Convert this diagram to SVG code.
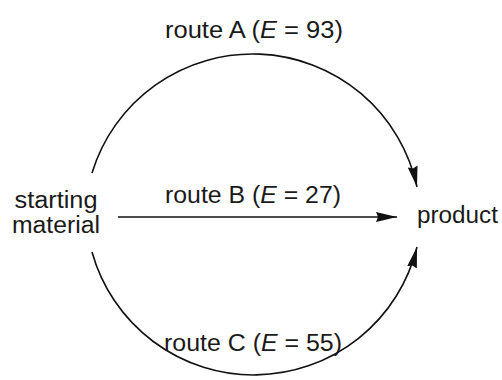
<svg xmlns="http://www.w3.org/2000/svg" width="502" height="380" viewBox="0 0 502 380">
  <style>
    .t { font-family: "Liberation Sans", Arial, Helvetica, sans-serif; font-size: 23px; fill: #1a1a1a; }
    .c { fill: none; stroke: #111; stroke-width: 1.6; }
    .i { font-style: italic; }
  </style>
  <defs>
    <marker id="ah" markerUnits="userSpaceOnUse" viewBox="0 0 21 10" markerWidth="21" markerHeight="10" refX="21" refY="5" orient="auto">
      <path d="M0,0 L21,5 L0,10 L2,5 z" fill="#111"/>
    </marker>
  </defs>
  <rect width="502" height="380" fill="#fff"/>
  <g id="start">
    <text class="t" x="56" y="208" text-anchor="middle" textLength="83" lengthAdjust="spacingAndGlyphs">starting</text>
    <text class="t" x="56" y="233" text-anchor="middle" textLength="88" lengthAdjust="spacingAndGlyphs">material</text>
  </g>
  <g id="product">
    <text class="t" x="417" y="223" textLength="81" lengthAdjust="spacingAndGlyphs">product</text>
  </g>
  <g id="connectors">
    <g id="routeA">
      <path class="c" d="M92,173 A168,168 0 0 1 417,187" marker-end="url(#ah)"/>
      <text class="t" x="165" y="38" textLength="178" lengthAdjust="spacingAndGlyphs">route A (<tspan class="i">E</tspan> = 93)</text>
    </g>
    <g id="routeB">
      <path class="c" d="M118,217 L397,217" marker-end="url(#ah)"/>
      <text class="t" x="165" y="203" textLength="176" lengthAdjust="spacingAndGlyphs">route B (<tspan class="i">E</tspan> = 27)</text>
    </g>
    <g id="routeC">
      <path class="c" d="M92,252 A168,168 0 0 0 417,247" marker-end="url(#ah)"/>
      <text class="t" x="164" y="351" textLength="178" lengthAdjust="spacingAndGlyphs">route C (<tspan class="i">E</tspan> = 55)</text>
    </g>
  </g>
</svg>
